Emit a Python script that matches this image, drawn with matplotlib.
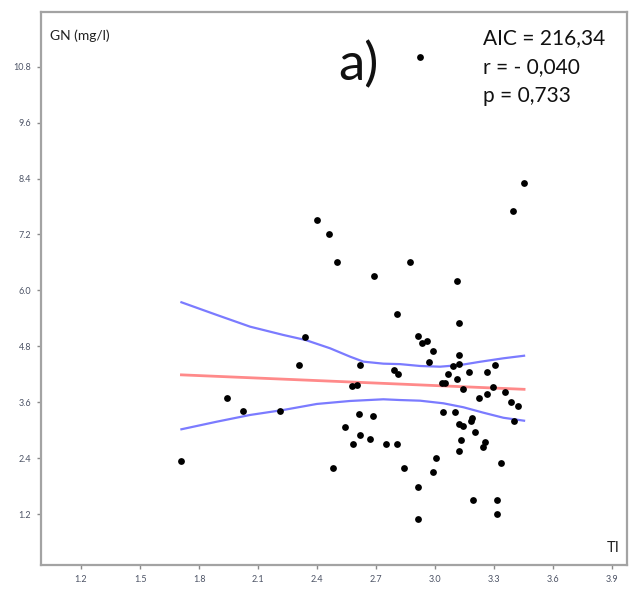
import matplotlib
matplotlib.use("Agg")
import matplotlib.pyplot as plt

# ---- data ----
ti = [2.923, 3.451, 3.394, 2.401, 2.462, 2.501, 2.872, 2.690, 3.112, 2.806,
      3.121, 2.340, 2.911, 2.933, 2.958, 2.990, 3.121, 2.970, 2.309, 2.619,
      3.092, 3.121, 3.304, 2.792, 2.812, 3.172, 3.261, 3.065, 3.112, 3.033,
      3.050, 2.579, 2.601, 3.295, 3.143, 3.261, 3.353, 3.222, 1.940, 3.383,
      3.422, 2.022, 2.211, 3.041, 3.102, 2.611, 2.682, 3.188, 3.180, 3.402,
      3.121, 3.140, 2.541, 3.204, 2.619, 2.668, 3.131, 3.254, 3.243, 2.581,
      2.751, 2.806, 3.121, 3.002, 1.710, 3.333, 2.479, 2.841, 2.990, 2.911,
      3.192, 3.312, 3.312, 2.912]
gn = [11.01, 8.31, 7.70, 7.52, 7.20, 6.60, 6.60, 6.30, 6.20, 5.50,
      5.30, 5.00, 5.03, 4.88, 4.91, 4.70, 4.62, 4.46, 4.40, 4.40,
      4.38, 4.42, 4.40, 4.30, 4.21, 4.25, 4.25, 4.21, 4.10, 4.01,
      4.02, 3.96, 3.97, 3.92, 3.89, 3.79, 3.83, 3.69, 3.70, 3.61,
      3.53, 3.41, 3.41, 3.40, 3.40, 3.34, 3.30, 3.27, 3.21, 3.21,
      3.14, 3.09, 3.08, 2.96, 2.89, 2.81, 2.80, 2.74, 2.65, 2.70,
      2.70, 2.70, 2.56, 2.40, 2.34, 2.31, 2.20, 2.20, 2.10, 1.79,
      1.50, 1.50, 1.20, 1.10]

fit_x = [1.710, 3.451]
fit_y = [4.19, 3.88]

upper_x = [1.710, 1.890, 2.059, 2.228, 2.340, 2.465, 2.567, 2.635, 2.736,
           2.821, 2.923, 3.024, 3.126, 3.227, 3.346, 3.451]
upper_y = [5.746, 5.474, 5.223, 5.045, 4.938, 4.760, 4.580, 4.473, 4.430,
           4.420, 4.380, 4.365, 4.400, 4.470, 4.545, 4.600]

lower_x = [1.710, 1.890, 2.059, 2.228, 2.398, 2.567, 2.736, 2.821, 2.923,
           3.041, 3.143, 3.244, 3.346, 3.451]
lower_y = [3.023, 3.186, 3.330, 3.437, 3.566, 3.630, 3.666, 3.650, 3.636,
           3.580, 3.495, 3.379, 3.270, 3.207]

xticks = [1.2, 1.5, 1.8, 2.1, 2.4, 2.7, 3.0, 3.3, 3.6, 3.9]
yticks = [1.2, 2.4, 3.6, 4.8, 6.0, 7.2, 8.4, 9.6, 10.8]

stats_lines = ["AIC = 216,34", "r = - 0,040", "p = 0,733"]
panel_label = "a)"
y_label = "GN (mg/l)"
x_label = "TI"

# ---- figure ----
W, H = 631, 589
fig = plt.figure(figsize=(W / 100, H / 100), dpi=100)
left, right, top, bottom = 40.7, 627, 12, 565
ax = fig.add_axes([left / W, 1 - bottom / H, (right - left) / W, (bottom - top) / H])

ax.plot(upper_x, upper_y, color="#7b7bff", lw=1.6, zorder=2)
ax.plot(lower_x, lower_y, color="#7b7bff", lw=1.6, zorder=2)
ax.plot(fit_x, fit_y, color="#ff8a8a", lw=2.0, zorder=2)
ax.scatter(ti, gn, s=24, color="black", zorder=3, linewidths=0)

ax.set_xlim(0.995, 3.974)
ax.set_ylim(0.113, 11.97)
ax.set_xticks(xticks)
ax.set_yticks(yticks)
ax.set_xticklabels([f"{v:.1f}" for v in xticks])
ax.set_yticklabels([f"{v:.1f}" for v in yticks])

for s in ax.spines.values():
    s.set_color("#a3a3a3")
    s.set_linewidth(1.6)
ax.tick_params(direction="out", length=3, width=1, color="#8a8a8a",
               labelsize=6.5, labelcolor="#4d5466", pad=4)

fam = ["Lato", "DejaVu Sans"]
for lab in ax.get_xticklabels() + ax.get_yticklabels():
    lab.set_family(fam)

fig.text(50 / W, 1 - 40 / H, y_label, fontsize=10, family=fam, color="#222222",
         ha="left", va="baseline")
fig.text(620 / W, 1 - 552 / H, x_label, fontsize=10.5, family=fam, color="#222222",
         ha="right", va="baseline")
fig.text(358 / W, 1 - 80 / H, panel_label, fontsize=38, family=fam, color="#111111",
         ha="center", va="baseline")
for i, line in enumerate(stats_lines):
    fig.text(483 / W, 1 - (44 + 29 * i) / H, line, fontsize=15, family=fam,
             color="#111111", ha="left", va="baseline")

fig.savefig("out.png", dpi=100)
